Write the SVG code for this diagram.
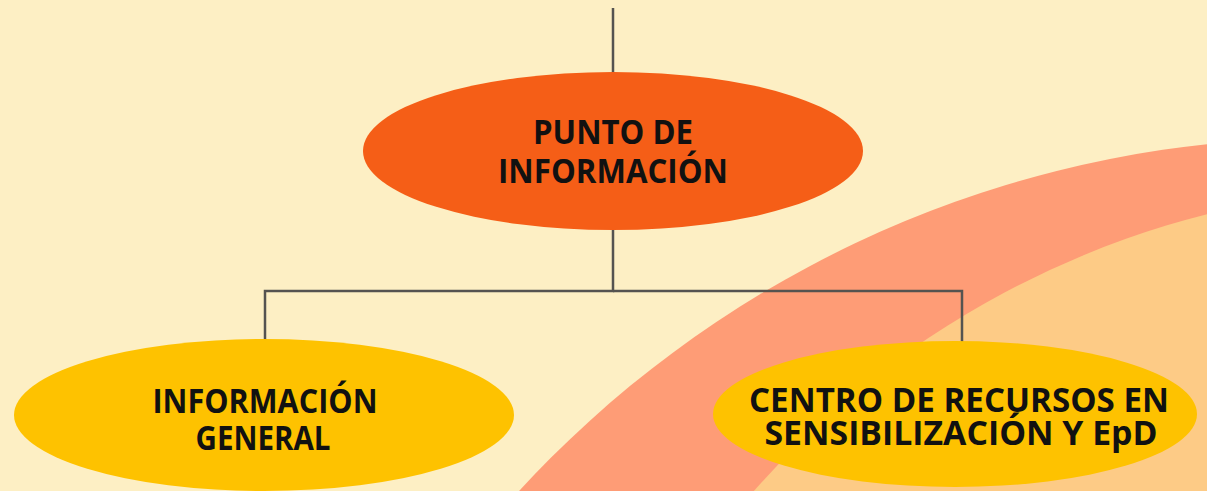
<svg xmlns="http://www.w3.org/2000/svg" width="1207" height="491" viewBox="0 0 1207 491">
  <style>
    .lbl { font-family: "Open Sans", "Noto Sans", "Liberation Sans", sans-serif; font-weight: bold; font-size: 34px; fill: #111; text-anchor: middle; }
    .conn { fill: none; stroke: #555350; stroke-width: 2.5; }
  </style>
  <rect x="0" y="0" width="1207" height="491" fill="#FDEFC4"/>
  <g id="background">
    <circle cx="1323" cy="1230" r="1092" fill="#FE9C76"/>
    <circle cx="1426" cy="1082" r="895" fill="#FDCB86"/>
  </g>
  <g id="connectors">
    <line class="conn" x1="613" y1="8" x2="613" y2="74"/>
    <polyline class="conn" points="613,228 613,291 265,291 265,342"/>
    <polyline class="conn" points="613,291 962,291 962,342"/>
  </g>
  <g id="node-punto">
    <ellipse cx="613" cy="151" rx="250" ry="79" fill="#F55E17"/>
    <text class="lbl" x="613" y="144" textLength="160" lengthAdjust="spacingAndGlyphs">PUNTO DE</text>
    <text class="lbl" x="613" y="183" textLength="230" lengthAdjust="spacingAndGlyphs">INFORMACIÓN</text>
  </g>
  <g id="node-general">
    <ellipse cx="264" cy="415" rx="250" ry="76" fill="#FEC200"/>
    <text class="lbl" x="265" y="413" textLength="225" lengthAdjust="spacingAndGlyphs">INFORMACIÓN</text>
    <text class="lbl" x="263" y="450" textLength="135" lengthAdjust="spacingAndGlyphs">GENERAL</text>
  </g>
  <g id="node-centro">
    <ellipse cx="955" cy="414" rx="242" ry="73" fill="#FEC200"/>
    <text class="lbl" x="959" y="412" textLength="420" lengthAdjust="spacingAndGlyphs">CENTRO DE RECURSOS EN</text>
    <text class="lbl" x="961" y="445" textLength="393" lengthAdjust="spacingAndGlyphs">SENSIBILIZACIÓN Y EpD</text>
  </g>
</svg>
